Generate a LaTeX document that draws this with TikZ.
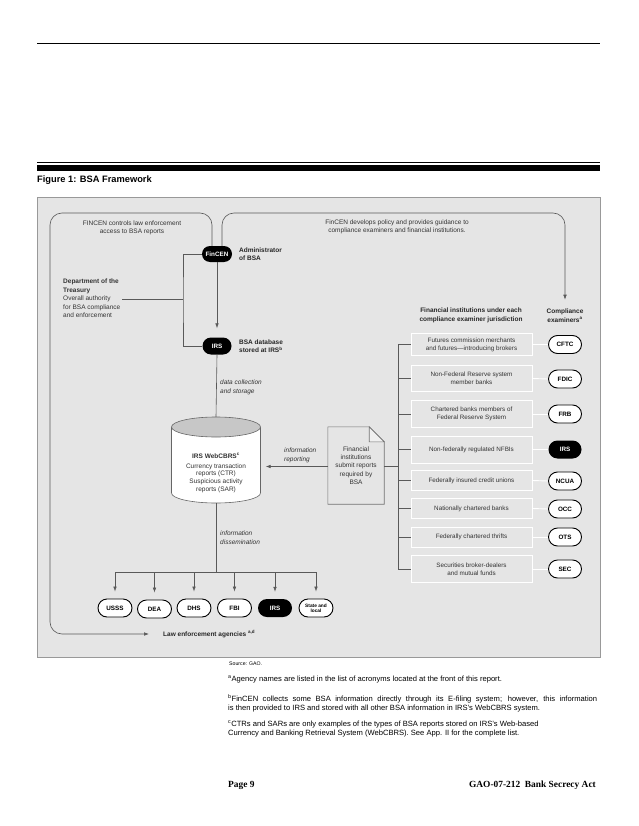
\documentclass[tikz,border=0pt]{standalone}
\usepackage{fontspec}
\setmainfont{Liberation Sans}
\newfontfamily\serifbold{Liberation Serif}
\usetikzlibrary{arrows.meta,shapes.misc}
\newcommand{\fsz}[2]{\fontsize{#1}{#2}\selectfont}
\begin{document}
\begin{tikzpicture}[x=1pt,y=-1pt,
  conn/.style={draw=black!65, line width=0.6pt},
  arr/.style={conn, -{Latex[length=5pt,width=3.6pt]}},
  pillb/.style={rounded rectangle, fill=black, text=white, font=\bfseries\fsz{6.3}{7}, minimum width=32pt, minimum height=16pt, inner sep=1pt},
  pillw/.style={rounded rectangle, fill=white, draw=black, line width=0.9pt, font=\bfseries\fsz{6.3}{7}, minimum width=35pt, minimum height=18pt, inner sep=1pt},
  fibox/.style={draw=white, line width=0.9pt, minimum width=121pt, minimum height=23pt, align=center, font=\fsz{6.3}{8}, text=black!80, inner sep=1pt},
  lbl/.style={font=\fsz{6.5}{8.4}, text=black!80, align=left, inner sep=0pt},
  lblc/.style={font=\fsz{6.5}{8.2}, text=black!80, align=center, inner sep=0pt},
  lblb/.style={font=\bfseries\fsz{6.5}{8.4}, text=black!85, align=left, inner sep=0pt},
  lbli/.style={font=\itshape\fsz{6.5}{8.6}, text=black!80, align=left, inner sep=0pt},
  note/.style={font=\fsz{7.6}{9.2}, align=left, anchor=north west, inner sep=0pt},
  foot/.style={font=\serifbold\bfseries\fsz{9.4}{11}, inner sep=0pt}
]
\useasboundingbox (0,0) rectangle (638,826);
\fill[white] (0,0) rectangle (638,826);
% header rules
\draw[line width=0.8pt] (37,43) -- (600,43);
\draw[line width=0.5pt] (37,162.5) -- (600,162.5);
\fill (37,165) rectangle (600,171.5);
\node[anchor=west, font=\bfseries\fsz{9.3}{11}, inner sep=0pt] (title) at (37,180) {Figure 1: BSA Framework};
% panel
\draw[draw=black!40, fill=black!10, line width=0.8pt] (37,197) rectangle (600,657);

% FinCEN and IRS
\node[pillb] (fincen) at (217,254) {FinCEN};
\node[lblb, anchor=west] (admin) at (239,254) {Administrator\\of BSA};
\node[pillb, minimum width=31pt, minimum height=17pt] (irs1) at (217,346) {IRS};
\node[lblb, anchor=west] (bsadb) at (239,346) {BSA database\\stored at IRS\textsuperscript{b}};
\node[lbl, anchor=north west] (treas) at (63,279) {\textbf{Department of the}\\\textbf{Treasury}\\Overall authority\\for BSA compliance\\and enforcement};
\coordinate (tline) at (122,299.5);
\coordinate (jx) at (183,299.5);
\draw[conn] (fincen.west) -| (jx) |- (irs1.west);
\draw[conn] (tline) -- (jx);
\draw[arr, shorten >=9pt] (fincen.south) -- (irs1.north);

% top texts
\node[lblc] (toptl) at (132,228) {FINCEN controls law enforcement\\access to BSA reports};
\node[lblc] (toptr) at (397,227) {FinCEN develops policy and provides guidance to\\compliance examiners and financial institutions.};

% headers right
\node[lblb, align=center] (fih) at (471,315.5) {Financial institutions under each\\compliance examiner jurisdiction};
\node[lblb, align=center] (cexh) at (565,315.5) {Compliance\\examiners\textsuperscript{a}};

% loops
\coordinate (rtop) at (565,213);
\coordinate (ltop) at (50,213);
\coordinate (lbot) at (50,634);
\node[lblb, anchor=west] (lea) at (163,634) {Law enforcement agencies \textsuperscript{a,d}};
\draw[arr, rounded corners=12pt] ([xshift=5pt]fincen.north) |- (rtop) -- ([yshift=9pt]cexh.north);
\draw[arr, rounded corners=12pt] ([xshift=-5pt]fincen.north) |- (ltop) -- (lbot) -- ([xshift=-14pt]lea.west);

% data collection
\node[lbli, anchor=west] (dcs) at (220,387.5) {data collection\\and storage};

% cylinder
\fill[white] (171.5,427) -- (171.5,493) arc[start angle=180,end angle=0,x radius=44.5,y radius=10] -- (260.5,427) -- cycle;
\draw[black!60, line width=0.6pt] (171.5,427) -- (171.5,493) arc[start angle=180,end angle=0,x radius=44.5,y radius=10] -- (260.5,427);
\draw[black!60, fill=black!22, line width=0.6pt] (216,427) ellipse[x radius=44.5, y radius=10];
\node[minimum width=89pt, minimum height=86pt, inner sep=0pt] (cyl) at (216,460) {};
\node[lblc, font=\fsz{6.5}{7.8}] (cyltxt) at (216,473) {\textbf{IRS WebCBRS\textsuperscript{c}}\\[2pt]Currency transaction\\reports (CTR)\\Suspicious activity\\reports (SAR)};
\draw[conn] (irs1.south) -- (cyl.north);

% document
\node[minimum width=56pt, minimum height=77pt, inner sep=0pt, lblc] (doc) at (356,465.5) {Financial\\institutions\\submit reports\\required by\\BSA};
\draw[black!55, line width=0.6pt] (doc.south west) -- (doc.north west) -- ([xshift=-15pt]doc.north east) -- ([yshift=-15pt]doc.north east) -- (doc.south east) -- cycle;
\draw[black!55, fill=black!6, line width=0.6pt] ([xshift=-15pt]doc.north east) -- ([xshift=-15pt,yshift=-15pt]doc.north east) -- ([yshift=-15pt]doc.north east) -- cycle;
\node[lbli, anchor=west] (inforep) at (284,455.5) {information\\reporting};
\draw[arr, shorten >=5pt] ([yshift=-1pt]doc.west) -- ([yshift=-1pt]doc.west -| cyl.east);

% right column
\coordinate (bustop) at (398,344.5);
\coordinate (busbot) at (398,569);
\draw[conn] (bustop) -- (busbot);
\draw[conn] ([yshift=-1pt]doc.east) -- ([yshift=-1pt]doc.east -| bustop);
\node[fibox, minimum height=22pt] (fi1) at (471.5,344.5) {Futures commission merchants\\and futures---introducing brokers};
\node[fibox, minimum height=26pt] (fi2) at (471.5,378.5) {Non-Federal Reserve system\\member banks};
\node[fibox, minimum height=27pt] (fi3) at (471.5,414) {Chartered banks members of\\Federal Reserve System};
\node[fibox, minimum height=27pt] (fi4) at (471.5,449.5) {Non-federally regulated NFBIs};
\node[fibox, minimum height=20pt] (fi5) at (471.5,480.5) {Federally insured credit unions};
\node[fibox, minimum height=20pt] (fi6) at (471.5,508.5) {Nationally chartered banks};
\node[fibox, minimum height=20pt] (fi7) at (471.5,537) {Federally chartered thrifts};
\node[fibox, minimum height=27pt] (fi8) at (471.5,569) {Securities broker-dealers\\and mutual funds};
\node[pillw] (ex1) at (565,344.5) {CFTC};
\node[pillw] (ex2) at (565,379) {FDIC};
\node[pillw] (ex3) at (565,414) {FRB};
\node[pillb, minimum width=35pt, minimum height=18pt] (ex4) at (565,449.5) {IRS};
\node[pillw] (ex5) at (565,481) {NCUA};
\node[pillw] (ex6) at (565,509) {OCC};
\node[pillw] (ex7) at (565,537) {OTS};
\node[pillw] (ex8) at (565,569) {SEC};
\foreach \i in {1,...,8}{
  \draw[conn] (fi\i.west -| bustop) -- (fi\i.west);
  \draw[white, line width=0.9pt] (fi\i.east) -- (ex\i.west);
}

% dissemination
\node[lbli, anchor=west] (idis) at (220,537.5) {information\\dissemination};
\coordinate (dbus) at (216,572);
\draw[conn] (cyl.south) -- (dbus);
\node[pillw, minimum width=36pt] (ag1) at (115,608) {USSS};
\node[pillw, minimum width=36pt] (ag2) at (154.5,609) {DEA};
\node[pillw, minimum width=36pt] (ag3) at (194,608) {DHS};
\node[pillw, minimum width=36pt] (ag4) at (234.5,608) {FBI};
\node[pillb, minimum width=36pt, minimum height=18pt] (ag5) at (275,608) {IRS};
\node[pillw, minimum width=36pt, font=\bfseries\fsz{4.8}{5.4}, align=center] (ag6) at (316,608) {State and\\local};
\draw[conn] (ag1.north |- dbus) -- (ag6.north |- dbus);
\foreach \i in {1,...,6}{
  \draw[arr, shorten >=7pt] (ag\i.north |- dbus) -- (ag\i.north);
}

% notes
\node[note, font=\fsz{5.2}{6}] (src) at (229,662) {Source: GAO.};
\node[note] (na) at (228,675.5) {\textsuperscript{a}Agency names are listed in the list of acronyms located at the front of this report.};
\node[note] (nb) at (228,694.5) {\makebox[369pt][s]{\textsuperscript{b}FinCEN collects some BSA information directly through its E-filing system; however, this information}\\is then provided to IRS and stored with all other BSA information in IRS's WebCBRS system.};
\node[note] (nc) at (228,720.5) {\textsuperscript{c}CTRs and SARs are only examples of the types of BSA reports stored on IRS's Web-based\\Currency and Banking Retrieval System (WebCBRS). See App. II for the complete list.};

% footer
\node[foot, anchor=west] (pg) at (228,785) {Page 9};
\node[foot, anchor=east] (gao) at (596,785) {GAO-07-212~~Bank Secrecy Act};
\end{tikzpicture}
\end{document}
